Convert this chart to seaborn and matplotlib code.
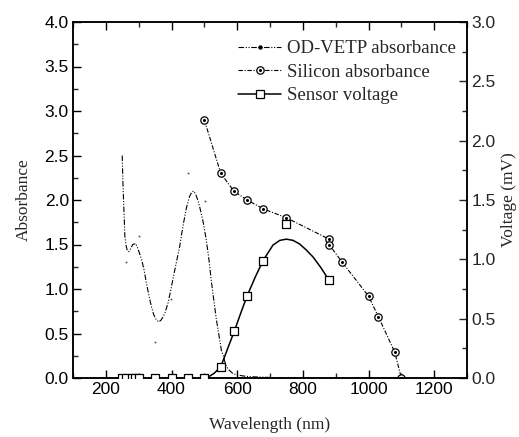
import matplotlib
matplotlib.use("Agg")
import matplotlib.pyplot as plt
import seaborn as sns
import pandas as pd
from matplotlib.lines import Line2D
from matplotlib.legend_handler import HandlerTuple
from matplotlib.ticker import MultipleLocator

# ---------------- data ----------------
od_wl = [250, 252, 255, 258, 262, 265, 270, 275, 282, 291, 298, 309, 316, 324, 331, 339,
         346, 353, 361, 368, 375, 380, 390, 400, 412, 425, 435, 446, 455, 462, 468, 474,
         480, 486, 496, 506, 514, 521, 529, 537, 545, 552, 557, 562, 567, 575, 587, 600,
         620, 640, 670, 700, 750, 800, 900, 1000, 1100]
od_abs = [2.50, 2.20, 1.90, 1.59, 1.48, 1.44, 1.42, 1.45, 1.50, 1.51, 1.45, 1.33, 1.22,
          1.06, 0.93, 0.80, 0.71, 0.66, 0.63, 0.65, 0.69, 0.73, 0.85, 1.03, 1.25, 1.48,
          1.71, 1.92, 2.04, 2.09, 2.10, 2.06, 2.00, 1.92, 1.76, 1.55, 1.33, 1.10, 0.87,
          0.65, 0.47, 0.31, 0.26, 0.19, 0.13, 0.09, 0.05, 0.035, 0.022, 0.015, 0.010,
          0.006, 0.003, 0.001, 0.0, 0.0, 0.0]
od_spike_wl = [261, 300, 351, 398, 450, 501]
od_spike_abs = [1.30, 1.60, 0.40, 0.89, 2.30, 1.99]

si_wl = [500, 550, 590, 630, 680, 750, 880, 880, 920, 1000, 1030, 1080, 1100]
si_abs = [2.90, 2.30, 2.10, 2.00, 1.90, 1.80, 1.56, 1.50, 1.30, 0.92, 0.69, 0.29, 0.0]

sv_wl = [250, 260, 280, 290, 300, 350, 400, 450, 500, 550, 590, 630, 680, 750, 880]
sv_v = [0, 0, 0, 0, 0, 0, 0, 0, 0, 0.095, 0.40, 0.69, 0.99, 1.30, 0.83]

fit_wl = [500, 517, 530, 550, 570, 592, 610, 630, 655, 679, 709, 730, 750, 770, 790,
          810, 831, 855, 876]
fit_v = [0, 0.017, 0.04, 0.095, 0.24, 0.40, 0.54, 0.69, 0.85, 0.99, 1.12, 1.16, 1.17,
         1.16, 1.13, 1.08, 1.02, 0.93, 0.84]

x_label = "Wavelength (nm)"
y_label = "Absorbance"
y2_label = "Voltage (mV)"
legend_labels = ["OD-VETP absorbance", "Silicon absorbance", "Sensor voltage"]

# ---------------- style ----------------
sns.set_style("ticks")
plt.rcParams["font.family"] = ["Liberation Sans", "DejaVu Sans"]
plt.rcParams["xtick.direction"] = "in"
plt.rcParams["ytick.direction"] = "in"
serif = ["Liberation Serif", "DejaVu Serif"]

fig = plt.figure(figsize=(5.19, 4.37), dpi=100)
ax = fig.add_axes([73/519, 59/437, 394/519, 356/437])
ax2 = ax.twinx()

od_df = pd.DataFrame({"wl": od_wl, "a": od_abs})
sp_df = pd.DataFrame({"wl": od_spike_wl, "a": od_spike_abs})
si_df = pd.DataFrame({"wl": si_wl, "a": si_abs})
sv_df = pd.DataFrame({"wl": sv_wl, "v": sv_v})
fit_df = pd.DataFrame({"wl": fit_wl, "v": fit_v})

dashdotdot = (0, (5, 1.5, 1, 1.5, 1, 1.5))
dashdot = (0, (4, 1.5, 1, 1.5))

sns.lineplot(data=od_df, x="wl", y="a", ax=ax, color="black", lw=0.8,
             linestyle=dashdotdot, sort=False, estimator=None)
ax.plot(sp_df["wl"], sp_df["a"], linestyle="none", marker="s", markersize=1.2,
        color="0.3", markeredgewidth=0)
sns.lineplot(data=si_df, x="wl", y="a", ax=ax, color="black", lw=0.8,
             linestyle=dashdot, sort=False, estimator=None, marker="o",
             markersize=5.3, markerfacecolor="white", markeredgecolor="black",
             markeredgewidth=0.9)
ax.plot(si_df["wl"], si_df["a"], linestyle="none", marker="o", markersize=1.2,
        color="black")

sns.lineplot(data=fit_df, x="wl", y="v", ax=ax2, color="black", lw=1.1,
             sort=False, estimator=None)
sns.scatterplot(data=sv_df, x="wl", y="v", ax=ax2, marker="s", s=30,
                facecolor="white", edgecolor="black", linewidth=0.9, zorder=3)

ax.set_xlim(100, 1300)
ax.set_ylim(0, 4.0)
ax2.set_ylim(0, 3.0)

ax.xaxis.set_major_locator(MultipleLocator(200))
ax.xaxis.set_minor_locator(MultipleLocator(100))
ax.yaxis.set_major_locator(MultipleLocator(0.5))
ax.yaxis.set_minor_locator(MultipleLocator(0.25))
ax2.yaxis.set_major_locator(MultipleLocator(0.5))
ax2.yaxis.set_minor_locator(MultipleLocator(0.25))
ax.yaxis.set_major_formatter(matplotlib.ticker.FormatStrFormatter("%.1f"))
ax2.yaxis.set_major_formatter(matplotlib.ticker.FormatStrFormatter("%.1f"))

ax.tick_params(axis="x", which="both", top=True, bottom=True)
ax.tick_params(which="major", length=6, width=1, labelsize=12.5, color="black",
               labelcolor="black", pad=3)
ax.tick_params(which="minor", length=3.5, width=1)
ax.tick_params(axis="y", which="both", right=False)
ax2.tick_params(which="major", length=6, width=1, labelsize=12.5, pad=3)
ax2.tick_params(which="minor", length=3.5, width=1)

for a in (ax, ax2):
    for s in a.spines.values():
        s.set_visible(True)
        s.set_linewidth(1.1)
        s.set_color("black")

ax.set_xlabel(x_label, family=serif, fontsize=12.5, labelpad=14)
ax.set_ylabel(y_label, family=serif, fontsize=12.5, labelpad=9)
ax2.set_ylabel(y2_label, family=serif, fontsize=12.5, labelpad=4)

h_od = Line2D([], [], color="black", lw=0.8, linestyle=dashdotdot, marker="o",
              markersize=2.2)
h_si = (Line2D([], [], color="black", lw=0.8, linestyle=dashdot, marker="o",
               markersize=5.3, markerfacecolor="white", markeredgewidth=0.9),
        Line2D([], [], linestyle="none", marker="o", markersize=1.2, color="black"))
h_sv = Line2D([], [], color="black", lw=1.1, marker="s", markersize=5.3,
              markerfacecolor="white", markeredgewidth=0.9)
ax.legend([h_od, h_si, h_sv], legend_labels, loc="upper right",
          bbox_to_anchor=(1.0, 0.98), frameon=False, handlelength=2.3,
          handletextpad=0.3, labelspacing=0.33, borderaxespad=0.2,
          prop={"family": serif, "size": 13.5},
          handler_map={tuple: HandlerTuple(ndivide=1, pad=0)})

fig.savefig("out.png", dpi=100)
